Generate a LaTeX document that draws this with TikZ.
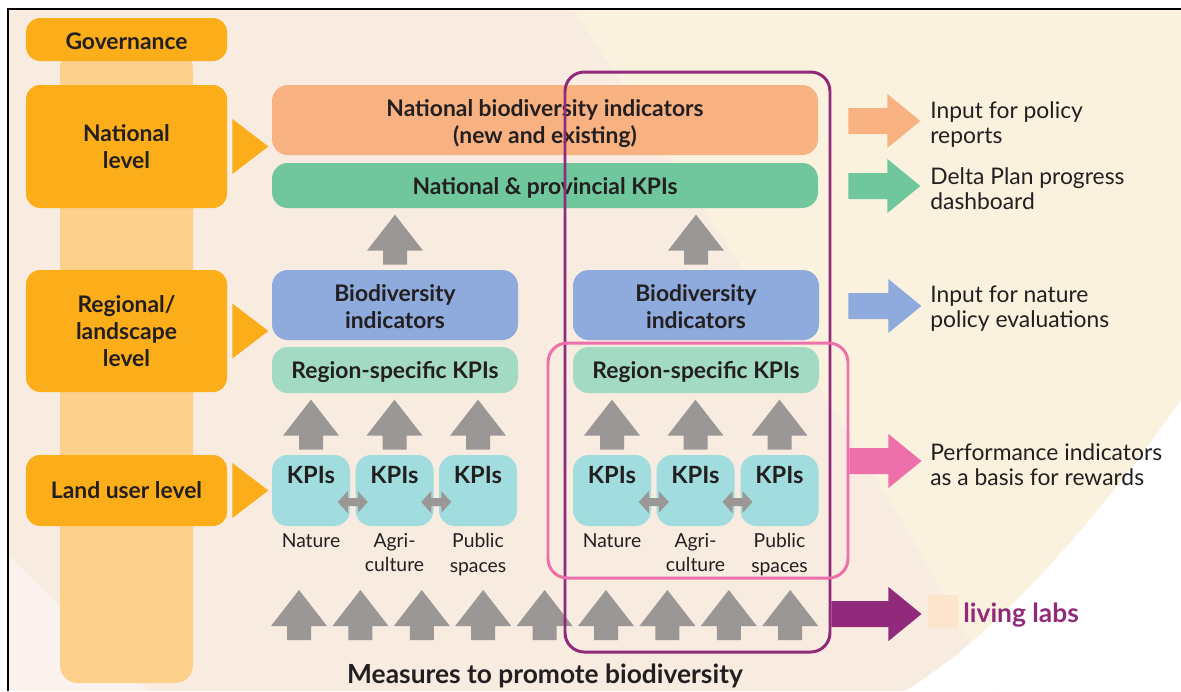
\documentclass[tikz,border=0pt]{standalone}
\usepackage{fontspec}
\setmainfont{Lato}
\usetikzlibrary{calc}

\definecolor{ink}{RGB}{35,31,32}
\definecolor{beige}{RGB}{248,235,224}
\definecolor{cream}{RGB}{250,242,223}
\definecolor{blush}{RGB}{251,242,240}
\definecolor{govor}{RGB}{251,173,26}
\definecolor{colfill}{RGB}{253,208,140}
\definecolor{salmon}{RGB}{248,178,130}
\definecolor{kpigreen}{RGB}{112,198,157}
\definecolor{bioblue}{RGB}{143,170,220}
\definecolor{mint}{RGB}{163,218,196}
\definecolor{kpicyan}{RGB}{161,220,222}
\definecolor{arrgray}{RGB}{155,151,151}
\definecolor{plum}{RGB}{145,42,122}
\definecolor{rose}{RGB}{238,112,170}
\definecolor{labsq}{RGB}{252,229,204}

% block arrow pointing up, starting from the bottom centre of its shaft
\newcommand\upblock[1]{\fill[arrgray] #1 ++(-12,0) -- ++(0,-14) -- ++(-16,0)
  -- ++(28,-36) -- ++(28,36) -- ++(-16,0) -- ++(0,14) -- cycle;}
% block arrow pointing right; #1 start point, #2 shaft length, #3 colour
\newcommand\rightblock[3]{\fill[#3] #1 ++(0,-13) -- ++(#2,0) -- ++(0,-14)
  -- ++(33,27) -- ++(-33,27) -- ++(0,-14) -- ++(-#2,0) -- cycle;}
% small two-way arrow centred on a point
\newcommand\twoway[1]{\fill[arrgray] #1 ++(-15,0) -- ++(10,-11) -- ++(0,7)
  -- ++(10,0) -- ++(0,-7) -- ++(10,11) -- ++(-10,11) -- ++(0,-7)
  -- ++(-10,0) -- ++(0,7) -- cycle;}
% orange pointer from a governance level to its content
\newcommand\pointer[1]{\fill[govor] #1 ++(5,-27.5) -- ++(36,27.5) -- ++(-36,27.5) -- cycle;}

\tikzset{
  sized/.style 2 args={minimum width=#1*0.02cm, minimum height=#2*0.02cm, inner sep=0pt},
  boldtxt/.style={text=ink, align=center, inner sep=0pt, font=\bfseries\fontsize{13}{15.3}\selectfont},
  lvl/.style={fill=govor, rounded corners=8, boldtxt},
  band/.style={rounded corners=9},
  kpi/.style={fill=kpicyan, rounded corners=9, sized={78}{71}},
  kpitxt/.style={text=ink, font=\bfseries\fontsize{13.5}{15}\selectfont, inner sep=0pt},
  sub/.style={text=ink, align=center, inner sep=0pt, font=\fontsize{11}{13.7}\selectfont},
  outtxt/.style={text=ink, align=left, anchor=west, inner sep=0pt, font=\fontsize{13}{14}\selectfont},
  frame/.style={draw, line width=1.7pt, rounded corners=11},
}

\begin{document}
\begin{tikzpicture}[x=0.02cm, y=-0.02cm]
\useasboundingbox (0,0) rectangle (1181,691);

% background layers
\fill[white] (0,0) rectangle (1181,691);
\fill[beige] (8,9) rectangle (1181,691);
\fill[cream] (573,9) .. controls (750,280) and (900,500) .. (995,691) -- (1181,691) -- (1181,9) -- cycle;
\fill[white] (1181,400) .. controls (1090,530) and (990,640) .. (905,691) -- (1181,691) -- cycle;
\fill[blush] (8,555) -- (150,691) -- (8,691) -- cycle;
\draw[line width=1.1pt, black] (8,691) -- (8,9) -- (1181,9);

% governance column
\fill[colfill, rounded corners=10] (60,50) -- (60,683) -- (193,683) -- (193,50) -- cycle;

% governance levels
\node[lvl, sized={201}{43}] (gov) at (126.5,39.5) {};
\node[boldtxt] (govt) at ($(gov)+(0,1.5)$) {Governance};
\node[lvl, sized={201}{123}] (nat) at (126.5,146.5) {National\\level};
\node[lvl, sized={201}{122}] (reg) at (126.5,331) {Regional/\\landscape\\level};
\node[lvl, sized={201}{71}] (land) at (126.5,490.5) {Land user level};

% national level
\node[band, fill=salmon, sized={546}{70}] (nbi) at (545,120) {};
\node[boldtxt] (nbit) at ($(nbi)+(0,3.5)$) {National biodiversity indicators\\(new and existing)};
\node[band, fill=kpigreen, sized={546}{45}] (npk) at (545,185.5) {};
\node[boldtxt] (npkt) at ($(npk)+(0,2)$) {National \& provincial KPIs};

% regional level
\node[band, fill=bioblue, sized={246}{70}] (bioL) at (395,305) {};
\node[boldtxt] (bioLt) at ($(bioL)+(0,2)$) {Biodiversity\\indicators};
\node[band, fill=bioblue, sized={246}{70}] (bioR) at (696,305) {};
\node[boldtxt] (bioRt) at ($(bioR)+(0,2)$) {Biodiversity\\indicators};
\node[band, fill=mint, sized={246}{46}] (rkL) at (395,370) {};
\node[boldtxt] (rkLt) at ($(rkL)+(0,2.5)$) {Region-specific KPIs};
\node[band, fill=mint, sized={246}{46}] (rkR) at (696,370) {};
\node[boldtxt] (rkRt) at ($(rkR)+(0,2.5)$) {Region-specific KPIs};

% land user level
\foreach \n/\x in {k1/311,k2/394.5,k3/478,k4/612,k5/695.5,k6/779.5}{
  \node[kpi] (\n) at (\x,490.5) {};
  \node[kpitxt, anchor=north] (\n t) at ($(\n.north)+(0,11)$) {KPIs};
}
\foreach \n/\lab in {k1/Nature,k2/Agri-\\culture,k3/Public\\spaces,k4/Nature,k5/Agri-\\culture,k6/Public\\spaces}{
  \node[sub, anchor=north] (\n l) at ($(\n.south)+(0,7)$) {\lab};
}

% pointers from the governance levels
\pointer{(nat.east)}
\pointer{(reg.east)}
\pointer{(land.east)}

% upward flows
\upblock{($(bioL.north)+(0,-5)$)}
\upblock{($(bioR.north)+(0,-5)$)}
\foreach \n in {k1,k2,k3,k4,k5,k6}{\upblock{($(\n.north)+(0,-5)$)}}

% exchange between sectors
\twoway{($(k1.east)!0.5!(k2.west)+(0,11.5)$)}
\twoway{($(k2.east)!0.5!(k3.west)+(0,11.5)$)}
\twoway{($(k4.east)!0.5!(k5.west)+(0,11.5)$)}
\twoway{($(k5.east)!0.5!(k6.west)+(0,11.5)$)}

% measures
\node[text=ink, font=\bfseries\fontsize{15}{17}\selectfont, inner sep=0pt] (meas) at (545,676) {Measures to promote biodiversity};
\coordinate (mrow) at (545,640);
\foreach \i in {0,...,8}{\upblock{($(mrow)+(\i*61.4-246,0)$)}}

% groupings
\node[frame, draw=plum, sized={265}{580}] (lab) at (697.5,362) {};
\node[frame, draw=rose, sized={300}{235}] (perf) at (698,460.5) {};

% outputs
\node[outtxt] (o1) at (930,124.5) {Input for policy\\reports};
\node[outtxt] (o2) at (930,188.5) {Delta Plan progress\\dashboard};
\node[outtxt] (o3) at (930,308.5) {Input for nature\\policy evaluations};
\node[outtxt] (o4) at (930,464.5) {Performance indicators\\as a basis for rewards};
\fill[labsq] (928,595) rectangle (958,628);
\node[anchor=west, inner sep=0pt, text=plum, font=\bfseries\fontsize{15}{17}\selectfont] (ll) at (963,615) {living labs};

\rightblock{($(nbi.east |- 0,121)+(30,0)$)}{39}{salmon}
\rightblock{($(npk.east |- 0,186)+(30,0)$)}{39}{kpigreen}
\rightblock{($(bioR.east |- 0,306)+(29,0)$)}{40}{bioblue}
\rightblock{(perf.east |- 0,461)}{39}{rose}
\rightblock{(lab.east |- 0,614)}{57}{plum}
\end{tikzpicture}
\end{document}
